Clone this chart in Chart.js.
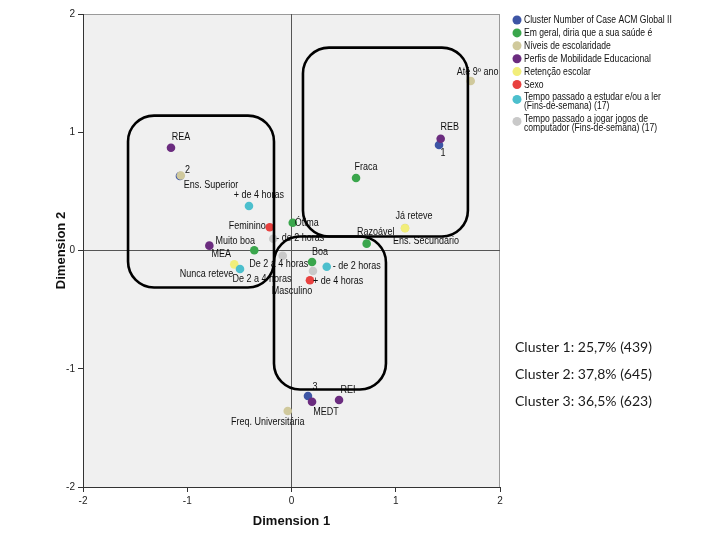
<!DOCTYPE html>
<html>
<head>
<meta charset="utf-8">
<script src="https://cdn.jsdelivr.net/npm/chart.js@4"></script>
<style>
  body { margin: 0; background: #fff; }
  #plot { display: block; }
</style>
</head>
<body>
<canvas id="plot" width="720" height="540"></canvas>
<script>
// Category points, one set of arrays per variable
const clusterNames = ['1', '2', '3'];
const clusterX = [1.415, -1.070, 0.158];
const clusterY = [0.892, 0.630, -1.230];

const healthNames = ['Fraca', 'Ótima', 'Muito boa', 'Boa', 'Razoável'];
const healthX = [0.619, 0.012, -0.357, 0.197, 0.721];
const healthY = [0.613, 0.235, 0.002, -0.097, 0.058];

const schoolNames = ['Até 9º ano', 'Ens. Superior', 'Ens. Secundário', 'Freq. Universitária'];
const schoolX = [1.719, -1.062, 1.089, -0.036];
const schoolY = [1.433, 0.634, 0.190, -1.357];

const mobilityNames = ['REA', 'REB', 'MEA', 'MEDT', 'REI'];
const mobilityX = [-1.156, 1.431, -0.788, 0.197, 0.456];
const mobilityY = [0.869, 0.945, 0.041, -1.279, -1.264];

const retentionNames = ['Nunca reteve', 'Já reteve'];
const retentionX = [-0.549, 1.089];
const retentionY = [-0.117, 0.188];

const sexNames = ['Feminino', 'Masculino'];
const sexX = [-0.209, 0.177];
const sexY = [0.196, -0.252];

const studyNames = ['+ de 4 horas', 'De 2 a 4 horas', '- de 2 horas'];
const studyX = [-0.408, -0.494, 0.338];
const studyY = [0.376, -0.156, -0.137];

const gamingNames = ['- de 2 horas', 'De 2 a 4 horas', '+ de 4 horas'];
const gamingX = [-0.175, -0.084, 0.206];
const gamingY = [0.100, -0.044, -0.173];

const seriesLabels = [
    ['Cluster Number of Case ACM Global II'],
    ['Em geral, diria que a sua saúde é'],
    ['Níveis de escolaridade'],
    ['Perfis de Mobilidade Educacional'],
    ['Retenção escolar'],
    ['Sexo'],
    ['Tempo passado a estudar e/ou a ler', '(Fins-de-semana) (17)'],
    ['Tempo passado a jogar jogos de', 'computador (Fins-de-semana) (17)']
];

const clusterNotes = ['Cluster 1: 25,7% (439)', 'Cluster 2: 37,8% (645)', 'Cluster 3: 36,5% (623)'];

const axisTicks = [-2, -1, 0, 1, 2];

// Outline boxes round the three clusters, in data units [xMin, xMax, yMin, yMax]
const clusterBoxes = [
    [-1.568, -0.168, -0.313, 1.141],
    [0.110, 1.692, 0.118, 1.716],
    [-0.168, 0.906, -1.175, 0.118]
];

const seriesColors = ['#3d55a5', '#3aa64c', '#d0c99c', '#6b2c7f', '#f2ee7a', '#e8413f', '#4cbfcd', '#c9c9c9'];

// Where each point label sits relative to its point: [dx, dy, align]
const labelPlace = [
    [[4, 8, 'center'], [5, -6, 'left'], [7, -9, 'center']],
    [[10, -11, 'center'], [2, 1, 'left'], [-19, -9, 'center'], [8, -10, 'center'], [9, -11, 'center']],
    [[7, -9, 'center'], [3, 10, 'left'], [21, 13, 'center'], [-20, 11, 'center']],
    [[10, -10, 'center'], [9, -12, 'center'], [12, 9, 'center'], [14, 11, 'center'], [9, -10, 'center']],
    [[-1, 10, 'right'], [9, -12, 'center']],
    [[-4, -1, 'right'], [-18, 11, 'center']],
    [[10, -11, 'center'], [22, 10, 'center'], [6, 0, 'left']],
    [[3, 0, 'left'], [-4, 9, 'center'], [0, 10, 'left']]
];

const allNames = [clusterNames, healthNames, schoolNames, mobilityNames, retentionNames, sexNames, studyNames, gamingNames];
const allX = [clusterX, healthX, schoolX, mobilityX, retentionX, sexX, studyX, gamingX];
const allY = [clusterY, healthY, schoolY, mobilityY, retentionY, sexY, studyY, gamingY];

const datasets = allNames.map((names, i) => ({
    label: seriesLabels[i].join(' '),
    data: names.map((n, j) => ({ x: allX[i][j], y: allY[i][j], name: n })),
    backgroundColor: seriesColors[i],
    borderColor: seriesColors[i],
    pointRadius: 4.3,
    pointBorderWidth: 0,
    order: -i // later series on top
}));

function squeezedText(ctx, text, x, y, align, squeeze) {
    const w = ctx.measureText(text).width * squeeze;
    let left = x;
    if (align === 'center') left = x - w / 2;
    if (align === 'right') left = x - w;
    ctx.save();
    ctx.translate(left, y);
    ctx.scale(squeeze, 1);
    ctx.textAlign = 'left';
    ctx.fillText(text, 0, 0);
    ctx.restore();
}

const plotBackground = {
    id: 'plotBackground',
    beforeDraw(chart) {
        const { ctx, chartArea: a } = chart;
        ctx.save();
        ctx.fillStyle = '#f0f0f0';
        ctx.fillRect(a.left, a.top, a.right - a.left, a.bottom - a.top);
        ctx.strokeStyle = '#9a9a9a';
        ctx.lineWidth = 1;
        ctx.strokeRect(a.left + 0.5, a.top + 0.5, a.right - a.left - 1, a.bottom - a.top);
        ctx.restore();
    }
};

const pointLabels = {
    id: 'pointLabels',
    afterDatasetsDraw(chart) {
        const { ctx, chartArea: a } = chart;
        ctx.save();
        ctx.beginPath();
        ctx.rect(a.left, a.top, a.right - a.left, a.bottom - a.top);
        ctx.clip();
        ctx.font = '10px "Liberation Sans", Arial, sans-serif';
        ctx.fillStyle = '#111';
        ctx.textBaseline = 'middle';
        chart.data.datasets.forEach((ds, i) => {
            const meta = chart.getDatasetMeta(i);
            meta.data.forEach((pt, j) => {
                const [dx, dy, align] = labelPlace[i][j];
                squeezedText(ctx, ds.data[j].name, pt.x + dx, pt.y + dy, align, 0.9);
            });
        });

        // cluster outlines
        const xs = chart.scales.x, ys = chart.scales.y;
        ctx.strokeStyle = '#000';
        ctx.lineWidth = 2.6;
        clusterBoxes.forEach(b => {
            const l = xs.getPixelForValue(b[0]);
            const r = xs.getPixelForValue(b[1]);
            const t = ys.getPixelForValue(b[3]);
            const btm = ys.getPixelForValue(b[2]);
            ctx.beginPath();
            ctx.roundRect(l, t, r - l, btm - t, 26);
            ctx.stroke();
        });
        ctx.restore();
    }
};

const sideText = {
    id: 'sideText',
    afterDraw(chart) {
        const { ctx } = chart;
        ctx.save();
        // legend
        ctx.font = '11px "Liberation Sans", Arial, sans-serif';
        ctx.textBaseline = 'middle';
        let y = 20;
        seriesLabels.forEach((lines, i) => {
            const markY = lines.length > 1 ? y + 2 : y;
            ctx.fillStyle = seriesColors[i];
            ctx.beginPath();
            ctx.arc(517, markY, 4.5, 0, Math.PI * 2);
            ctx.fill();
            ctx.fillStyle = '#111';
            lines.forEach((line, k) => {
                squeezedText(ctx, line, 524, y + k * 9, 'left', 0.78);
            });
            y += lines.length > 1 ? 22 : 12.9;
        });

        // cluster sizes
        ctx.font = '14px Lato, "Open Sans", sans-serif';
        ctx.fillStyle = '#1a1a1a';
        clusterNotes.forEach((t, i) => {
            ctx.fillText(t, 515, 347 + i * 27);
        });
        ctx.restore();
    }
};

new Chart(document.getElementById('plot'), {
    type: 'scatter',
    data: { datasets: datasets },
    plugins: [plotBackground, pointLabels, sideText],
    options: {
        responsive: false,
        animation: false,
        layout: { padding: { top: 14, right: 220, left: 0, bottom: 0 } },
        plugins: {
            legend: { display: false },
            tooltip: { enabled: false }
        },
        scales: {
            x: {
                min: -2,
                max: 2,
                afterFit: s => { s.height = 53; },
                afterBuildTicks: s => { s.ticks = axisTicks.map(v => ({ value: v })); },
                ticks: { color: '#222', font: { size: 10, family: 'Arial' }, padding: 3 },
                grid: {
                    color: c => (c.tick && c.tick.value === 0 ? '#555' : 'transparent'),
                    tickColor: '#333',
                    tickLength: 5
                },
                border: { color: '#333', width: 1 },
                title: {
                    display: true,
                    text: 'Dimension 1',
                    color: '#111',
                    font: { size: 13, weight: 'bold', family: 'Arial' },
                    padding: { bottom: 11 }
                }
            },
            y: {
                min: -2,
                max: 2,
                afterFit: s => { s.width = 83; },
                afterBuildTicks: s => { s.ticks = axisTicks.map(v => ({ value: v })); },
                ticks: { color: '#222', font: { size: 10, family: 'Arial' }, padding: 3 },
                grid: {
                    color: c => (c.tick && c.tick.value === 0 ? '#555' : 'transparent'),
                    tickColor: '#333',
                    tickLength: 5
                },
                border: { color: '#333', width: 1 },
                title: {
                    display: true,
                    text: 'Dimension 2',
                    color: '#111',
                    font: { size: 13, weight: 'bold', family: 'Arial' },
                    padding: { top: 54 }
                }
            }
        }
    }
});
</script>
</body>
</html>
